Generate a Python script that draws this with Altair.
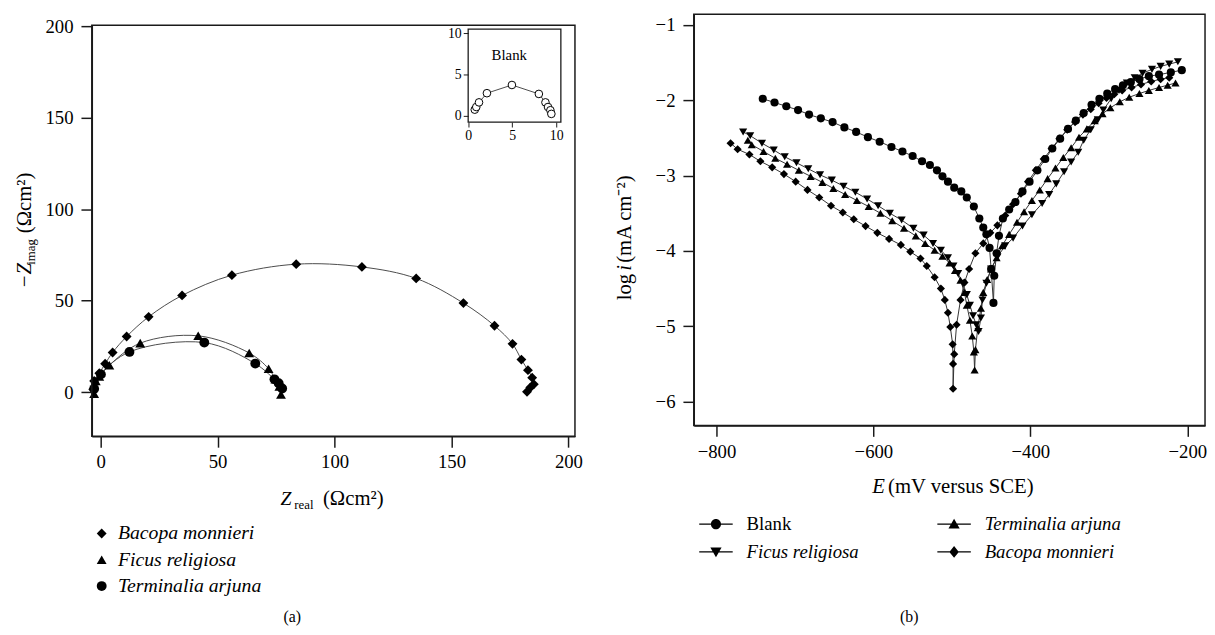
import altair as alt
import pandas as pd

FONT = "Liberation Serif"
INK = "#1a1a1a"

# ---------------- (a) Nyquist plots ----------------
NYQ_SERIES = ["Bacopa monnieri", "Ficus religiosa", "Terminalia arjuna"]
BACOPA_ZRE = [-3.2, -2.8, -0.6, 1.9, 5.1, 11.1, 20.5, 34.8, 56.1, 83.6, 111.7, 134.9,
              155.1, 168.4, 176.1, 179.9, 182.7, 184.5, 185.2, 183.7, 182.3]
BACOPA_ZIM = [1.5, 6.1, 10.3, 15.5, 21.7, 30.4, 41.2, 52.9, 64.0, 70.0, 68.5, 62.2,
              48.7, 36.3, 26.4, 17.8, 12.0, 7.9, 4.3, 2.5, 0.2]
FICUS_ZRE = [-2.8, -2.1, -0.6, 3.7, 16.9, 41.7, 63.5, 71.8, 74.7, 76.4, 77.1]
FICUS_ZIM = [-0.9, 6.1, 8.5, 14.7, 26.8, 30.8, 21.4, 12.8, 7.0, 3.1, -1.3]
TERMINALIA_ZRE = [-2.8, 0.1, 12.3, 44.3, 66.1, 74.3, 76.1, 77.6]
TERMINALIA_ZIM = [1.8, 9.7, 22.0, 27.1, 15.6, 7.0, 4.9, 2.0]

BLANK_ZRE = [0.75, 0.92, 1.23, 2.13, 4.97, 8.03, 8.78, 9.07, 9.34, 9.45]
BLANK_ZIM = [0.75, 1.07, 1.63, 2.74, 3.73, 2.65, 1.63, 1.07, 0.68, 0.24]
INSET_LABEL = ["Blank"]
INSET_LABEL_X = [4.67]
INSET_LABEL_Y = [7.30]

A_X_TICKS = [0, 50, 100, 150, 200]
A_Y_TICKS = [0, 50, 100, 150, 200]
INSET_TICKS = [0, 5, 10]
A_X_DOMAIN = [-3.8, 202.8]
A_Y_DOMAIN = [-24.2, 200.8]
INSET_X_DOMAIN = [0.0, 10.53]
INSET_Y_DOMAIN = [-0.75, 10.48]

# ---------------- (b) Tafel plots ----------------
TAFEL_SERIES = ["Blank", "Terminalia arjuna", "Ficus religiosa", "Bacopa monnieri"]
TAFEL_LEGEND_ORDER = ["Blank", "Ficus religiosa", "Terminalia arjuna", "Bacopa monnieri"]

BLANK_CATH_E = [-741, -726, -711, -696, -682, -667, -652, -637, -622, -607, -592, -577,
                -563, -550, -538, -528, -519, -512, -505, -497, -488, -481, -472, -465,
                -460, -456, -452, -450, -447]
BLANK_CATH_LOGI = [-1.98, -2.03, -2.08, -2.13, -2.19, -2.24, -2.29, -2.36, -2.42, -2.49,
                   -2.55, -2.62, -2.68, -2.74, -2.81, -2.86, -2.93, -3.01, -3.08, -3.16,
                   -3.21, -3.29, -3.41, -3.57, -3.69, -3.78, -3.96, -4.24, -4.69]
BLANK_ANOD_E = [-446, -443, -440, -435, -427, -419, -410, -401, -391, -381, -372, -362,
                -352, -342, -332, -322, -312, -302, -292, -282, -272, -261, -249, -236,
                -221, -207]
BLANK_ANOD_LOGI = [-4.33, -4.03, -3.80, -3.57, -3.45, -3.35, -3.21, -3.08, -2.93, -2.78,
                   -2.64, -2.51, -2.38, -2.27, -2.17, -2.06, -1.98, -1.91, -1.85, -1.80,
                   -1.76, -1.72, -1.68, -1.66, -1.63, -1.60]

TERM_CATH_E = [-760, -755, -740, -725, -710, -695, -680, -665, -651, -636, -621, -606,
               -591, -576, -561, -546, -534, -522, -512, -503, -496, -489, -484, -481,
               -477, -474, -472, -471]
TERM_CATH_LOGI = [-2.53, -2.59, -2.68, -2.77, -2.85, -2.93, -3.01, -3.09, -3.17, -3.25,
                  -3.33, -3.41, -3.50, -3.60, -3.70, -3.80, -3.90, -3.99, -4.07, -4.16,
                  -4.26, -4.39, -4.55, -4.72, -4.92, -5.13, -5.34, -5.58]
TERM_ANOD_E = [-470, -467, -463, -460, -455, -450, -443, -436, -427, -417, -408, -398,
               -388, -378, -368, -358, -348, -338, -328, -318, -308, -298, -286, -274,
               -261, -249, -236, -225, -215]
TERM_ANOD_LOGI = [-5.31, -5.02, -4.76, -4.55, -4.38, -4.24, -4.09, -3.93, -3.78, -3.62,
                  -3.48, -3.33, -3.19, -3.04, -2.90, -2.76, -2.63, -2.49, -2.38, -2.27,
                  -2.18, -2.10, -2.02, -1.96, -1.91, -1.87, -1.83, -1.80, -1.77]

FICUS_CATH_E = [-766, -757, -742, -727, -713, -698, -683, -668, -653, -638, -623, -608,
                -594, -579, -564, -549, -536, -524, -514, -505, -498, -492, -486, -481,
                -477, -473, -469, -466]
FICUS_CATH_LOGI = [-2.42, -2.47, -2.57, -2.66, -2.75, -2.83, -2.91, -2.99, -3.06, -3.14,
                   -3.22, -3.31, -3.40, -3.50, -3.59, -3.70, -3.79, -3.90, -3.99, -4.09,
                   -4.20, -4.30, -4.43, -4.58, -4.72, -4.86, -4.98, -5.07]
FICUS_ANOD_E = [-463, -461, -456, -450, -442, -432, -422, -410, -398, -385, -376, -367,
                -357, -348, -339, -332, -323, -314, -307, -297, -287, -277, -267, -257,
                -245, -234, -223, -212]
FICUS_ANOD_LOGI = [-4.89, -4.65, -4.43, -4.24, -4.08, -3.93, -3.83, -3.67, -3.52, -3.37,
                   -3.25, -3.11, -2.95, -2.82, -2.69, -2.53, -2.39, -2.26, -2.13, -1.98,
                   -1.87, -1.77, -1.70, -1.64, -1.59, -1.55, -1.52, -1.49]

BACOPA_CATH_E = [-782, -773, -758, -744, -729, -714, -699, -684, -669, -654, -639, -625,
                 -610, -595, -580, -565, -553, -540, -532, -522, -514, -509, -505, -502,
                 -499, -498.5, -498.5]
BACOPA_CATH_LOGI = [-2.57, -2.65, -2.72, -2.81, -2.89, -2.98, -3.08, -3.19, -3.29, -3.40,
                    -3.49, -3.58, -3.67, -3.76, -3.84, -3.92, -4.01, -4.10, -4.20, -4.35,
                    -4.50, -4.65, -4.82, -5.01, -5.24, -5.50, -5.83]
BACOPA_ANOD_E = [-497, -494, -489, -484, -478, -470, -460, -451, -442, -432, -422, -412,
                 -403, -393, -383, -373, -363, -353, -343, -333, -323, -313, -303, -293,
                 -283, -271, -259, -246, -234, -223]
BACOPA_ANOD_LOGI = [-5.37, -4.98, -4.65, -4.42, -4.24, -4.03, -3.90, -3.76, -3.66, -3.53,
                    -3.38, -3.24, -3.08, -2.93, -2.78, -2.64, -2.51, -2.39, -2.29, -2.19,
                    -2.12, -2.04, -1.97, -1.92, -1.87, -1.83, -1.79, -1.75, -1.72, -1.70]

B_X_TICKS = [-800, -600, -400, -200]
B_Y_TICKS = [-1, -2, -3, -4, -5, -6]
B_X_DOMAIN = [-828.9, -177.4]
B_Y_DOMAIN = [-6.317, -0.859]

# ---------------- layout constants ----------------
W_A, H_A, TOP_A = 490, 428, 11
W_B, H_B = 518.5, 417
INSET_X_RANGE = [381.7, 475.7]
INSET_Y_RANGE = [109.3, 15]

# legend symbols for (b): a short line with the marker on it
LEG_LINE = "M-2.83,-0.09H2.83V0.09H-2.83Z"
LEG_CIRCLE = LEG_LINE + "M0.85,0A0.85,0.85,0,1,1,-0.85,0A0.85,0.85,0,1,1,0.85,0Z"
LEG_TRI_UP = LEG_LINE + "M0,-0.9L0.95,0.75L-0.95,0.75Z"
LEG_TRI_DOWN = LEG_LINE + "M-0.95,-0.75L0.95,-0.75L0,0.9Z"
LEG_DIAMOND = LEG_LINE + "M0,-1L0.8,0L0,1L-0.8,0Z"
LEGEND_PATHS = [LEG_CIRCLE, LEG_TRI_DOWN, LEG_TRI_UP, LEG_DIAMOND]


def long_df(names, xs, ys, xf, yf):
    rows = []
    for n, xv, yv in zip(names, xs, ys):
        for i, (a, b) in enumerate(zip(xv, yv)):
            rows.append({"series": n, xf: a, yf: b, "idx": i})
    return pd.DataFrame(rows)


def txt(s, x, y, size, style="normal", angle=0, align="left", baseline="alphabetic"):
    return alt.Chart(pd.DataFrame({"t": [s]})).mark_text(
        font=FONT, fontSize=size, fontStyle=style, angle=angle, align=align,
        baseline=baseline, color="black"
    ).encode(x=alt.value(x), y=alt.value(y), text="t:N")


nyq_df = long_df(NYQ_SERIES, [BACOPA_ZRE, FICUS_ZRE, TERMINALIA_ZRE],
                 [BACOPA_ZIM, FICUS_ZIM, TERMINALIA_ZIM], "zre", "zim")
blank_df = pd.DataFrame({"bx": BLANK_ZRE, "by": BLANK_ZIM, "idx": list(range(len(BLANK_ZRE)))})
blank_lbl_df = pd.DataFrame({"bx": INSET_LABEL_X, "by": INSET_LABEL_Y, "t": INSET_LABEL})
frame_a_df = pd.DataFrame({"zre": [A_X_DOMAIN[0]], "zre2": [A_X_DOMAIN[1]],
                           "zim": [A_Y_DOMAIN[0]], "zim2": [A_Y_DOMAIN[1]]})
frame_i_df = pd.DataFrame({"bx": [INSET_X_DOMAIN[0]], "bx2": [INSET_X_DOMAIN[1]],
                           "by": [INSET_Y_DOMAIN[0]], "by2": [INSET_Y_DOMAIN[1]]})
tafel_df = long_df(
    TAFEL_SERIES,
    [BLANK_CATH_E + BLANK_ANOD_E, TERM_CATH_E + TERM_ANOD_E,
     FICUS_CATH_E + FICUS_ANOD_E, BACOPA_CATH_E + BACOPA_ANOD_E],
    [BLANK_CATH_LOGI + BLANK_ANOD_LOGI, TERM_CATH_LOGI + TERM_ANOD_LOGI,
     FICUS_CATH_LOGI + FICUS_ANOD_LOGI, BACOPA_CATH_LOGI + BACOPA_ANOD_LOGI],
    "E", "logi")
frame_b_df = pd.DataFrame({"E": [B_X_DOMAIN[0]], "E2": [B_X_DOMAIN[1]],
                           "logi": [B_Y_DOMAIN[0]], "logi2": [B_Y_DOMAIN[1]]})

# ---------------- panel (a) ----------------
xa = alt.X("zre:Q", scale=alt.Scale(domain=A_X_DOMAIN, nice=False, zero=False),
           axis=alt.Axis(values=A_X_TICKS, title=None))
ya = alt.Y("zim:Q", scale=alt.Scale(domain=A_Y_DOMAIN, range=[H_A, TOP_A], nice=False, zero=False),
           axis=alt.Axis(values=A_Y_TICKS, title=None))

lines_a = alt.Chart(nyq_df).mark_line(interpolate="catmull-rom", color="#4a4a4a", strokeWidth=1).encode(
    x=xa, y=ya, detail="series:N", order="idx:Q")
pts_a = alt.Chart(nyq_df).mark_point(filled=True, color="black", opacity=1, size=100).encode(
    x=xa, y=ya,
    shape=alt.Shape("series:N",
                    scale=alt.Scale(domain=NYQ_SERIES, range=["diamond", "triangle-up", "circle"]),
                    legend=alt.Legend(title=None, orient="none", legendX=0, legendY=516.5, padding=0,
                                      labelFont=FONT, labelFontSize=20, labelFontStyle="italic",
                                      labelColor="black", labelOffset=6.5, rowPadding=6.7,
                                      symbolSize=100, symbolStrokeWidth=0, symbolFillColor="black",
                                      labelLimit=400)))
frame_a = alt.Chart(frame_a_df).mark_rect(filled=False, color=INK, stroke=INK, strokeWidth=1.5).encode(
    x=xa, x2="zre2:Q", y=ya, y2="zim2:Q")

titles_a = [
    txt("Z", 191.4, 498, 20, style="italic"),
    txt("real", 205.4, 502, 13),
    txt("(Ωcm²)", 234.4, 498, 21),
    txt("−Z", -61.6, 278, 21, style="italic", angle=270),
    txt("imag", -57.6, 254, 13, angle=270),
    txt("(Ωcm²)", -61.6, 222, 21, angle=270),
    txt("(a)", 203.4, 611, 16, align="center", baseline="middle"),
]

main_a = alt.layer(lines_a, pts_a, frame_a, *titles_a)

xi = alt.X("bx:Q", scale=alt.Scale(domain=INSET_X_DOMAIN, range=INSET_X_RANGE, nice=False, zero=False),
           axis=alt.Axis(values=INSET_TICKS, orient="bottom", offset=-(H_A - INSET_Y_RANGE[0]), title=None,
                         labelFontSize=14, tickSize=5, tickWidth=1, domain=False, labelPadding=2))
yi = alt.Y("by:Q", scale=alt.Scale(domain=INSET_Y_DOMAIN, range=INSET_Y_RANGE, nice=False, zero=False),
           axis=alt.Axis(values=INSET_TICKS, orient="left", offset=-INSET_X_RANGE[0], title=None,
                         labelFontSize=14, tickSize=5, tickWidth=1, domain=False, labelPadding=2))

frame_i = alt.Chart(frame_i_df).mark_rect(filled=False, color=INK, stroke=INK, strokeWidth=1.3).encode(
    x=xi, x2="bx2:Q", y=yi, y2="by2:Q")
line_i = alt.Chart(blank_df).mark_line(color="#4a4a4a", strokeWidth=1).encode(x=xi, y=yi, order="idx:Q")
pts_i = alt.Chart(blank_df).mark_point(shape="circle", filled=True, fill="white", stroke="black",
                                       strokeWidth=1, opacity=1, size=60).encode(x=xi, y=yi)
lbl_i = alt.Chart(blank_lbl_df).mark_text(font=FONT, fontSize=15, color="black").encode(
    x=xi, y=yi, text="t:N")
inset_a = alt.layer(frame_i, line_i, pts_i, lbl_i)

panel_a = alt.layer(main_a, inset_a).resolve_scale(x="independent", y="independent").properties(
    width=W_A, height=H_A)

# ---------------- panel (b) ----------------
xb = alt.X("E:Q", scale=alt.Scale(domain=B_X_DOMAIN, nice=False, zero=False),
           axis=alt.Axis(values=B_X_TICKS, title=None))
yb = alt.Y("logi:Q", scale=alt.Scale(domain=B_Y_DOMAIN, nice=False, zero=False),
           axis=alt.Axis(values=B_Y_TICKS, title=None))

lines_b = alt.Chart(tafel_df).mark_line(color="#333333", strokeWidth=1).encode(
    x=xb, y=yb, detail="series:N", order="idx:Q")
pts_b = alt.Chart(tafel_df).mark_point(filled=True, color="black", opacity=1, size=68).encode(
    x=xb, y=yb,
    shape=alt.Shape("series:N",
                    scale=alt.Scale(domain=TAFEL_SERIES,
                                    range=["circle", "triangle-up", "triangle-down", "diamond"]),
                    legend=None))
legend_b = alt.Chart(tafel_df).transform_filter("false").mark_point(
    filled=True, color="black", opacity=1, size=144).encode(
    shape=alt.Shape("series:N",
                    scale=alt.Scale(domain=TAFEL_LEGEND_ORDER, range=LEGEND_PATHS),
                    legend=alt.Legend(title=None, orient="none", legendX=13, legendY=507.3, padding=0,
                                      columns=2, columnPadding=78.5, rowPadding=8.4,
                                      labelFont=FONT, labelFontSize=19,
                                      labelFontStyle=alt.ExprRef(expr="datum.label === 'Blank' ? 'normal' : 'italic'"),
                                      labelColor="black", labelOffset=21.5, symbolSize=144,
                                      symbolStrokeWidth=0, symbolFillColor="black", labelLimit=400)))
frame_b = alt.Chart(frame_b_df).mark_rect(filled=False, color=INK, stroke=INK, strokeWidth=1.5).encode(
    x=xb, x2="E2:Q", y=yb, y2="logi2:Q")

titles_b = [
    txt("E", 180.9, 485, 21, style="italic"),
    txt("(mV versus SCE)", 197.0, 485, 21),
    txt("log", -63.5, 290, 21, angle=270),
    txt("i", -63.5, 260, 21, style="italic", angle=270),
    txt("(mA cm⁻²)", -63.5, 252, 21, angle=270),
    txt("(b)", 218.5, 611, 16, align="center", baseline="middle"),
]

panel_b = alt.layer(lines_b, pts_b, legend_b, frame_b, *titles_b).resolve_scale(
    shape="independent").properties(width=W_B, height=H_B)

chart = alt.hconcat(panel_a, panel_b, spacing=31.5).properties(
    padding={"left": 6, "top": 1, "right": 0, "bottom": 0}
).configure_view(strokeWidth=0).configure_axis(
    domainColor=INK, domainWidth=1.5, tickColor=INK, tickWidth=1.5, tickSize=11,
    labelFont=FONT, labelFontSize=19, labelColor="black", grid=False,
    labelFlush=False, labelOverlap=False
).configure_axisX(labelPadding=6).configure_axisY(labelPadding=8)

chart.save("out.html", embed_options={"renderer": "svg", "actions": False})
